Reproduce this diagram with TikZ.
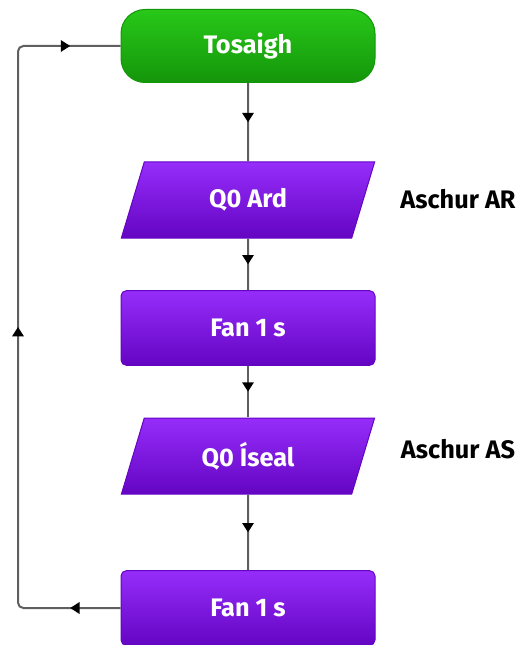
\documentclass[tikz,border=0pt]{standalone}
\usepackage{fontspec}
\setmainfont{Fira Sans}
\usetikzlibrary{shapes.geometric,arrows.meta,decorations.markings}

\definecolor{startgreen}{RGB}{40,200,25}
\definecolor{startgreendark}{RGB}{20,150,10}
\definecolor{steppurple}{RGB}{150,45,250}
\definecolor{steppurpledark}{RGB}{100,5,195}
\definecolor{flowgray}{RGB}{95,95,95}

\tikzset{every picture/.style={line width=0.75pt}}
\tikzset{
  flowbase/.style={minimum width=190.5pt, inner sep=2pt, text=white,
    font=\fontsize{19}{22}\selectfont\bfseries},
  startbox/.style={flowbase, rectangle, rounded corners=18pt, minimum height=54.75pt,
    draw=startgreendark, top color=startgreen, bottom color=startgreendark},
  fanbox/.style={flowbase, rectangle, rounded corners=4pt, minimum height=56pt,
    draw=steppurpledark, top color=steppurple, bottom color=steppurpledark},
  iobox/.style={flowbase, trapezium, trapezium left angle=72, trapezium right angle=108,
    trapezium stretches=true, minimum height=57pt,
    draw=steppurpledark, top color=steppurple, bottom color=steppurpledark},
  sidetext/.style={text=black, font=\fontsize{19}{22}\selectfont\bfseries},
  flowline/.style={draw=flowgray, line width=1.5pt, rounded corners=4pt},
  midarrow/.style={postaction={decorate,decoration={markings,
    mark=at position #1 with {\arrow[black]{Triangle[length=7pt,width=8.5pt]}}}}}
}

\begin{document}
\begin{tikzpicture}[x=0.75pt,y=0.75pt,yscale=-1,xscale=1]
\useasboundingbox (0,0) rectangle (522,645);

% Flowchart: Terminator
\node [startbox] (start) at (248,46) {Tosaigh};
% Flowchart: Data
\node [iobox] (ard) at (248,200) {Q0 Ard};
% Flowchart: Process
\node [fanbox] (fanA) at (248,328) {Fan 1 s};
% Flowchart: Data
\node [iobox] (iseal) at (248,456) {Q0 Íseal};
% Flowchart: Process
\node [fanbox] (fanB) at (248,608) {Fan 1 s};

% Text Node
\node [sidetext] (ar) at (458,199) {Aschur AR};
% Text Node
\node [sidetext] (as) at (458,449) {Aschur AS};

% Straight Lines
\draw [flowline, midarrow=0.5] (start) -- (ard);
\draw [flowline, midarrow=0.5] (ard) -- (fanA);
\draw [flowline, midarrow=0.5] (fanA) -- (iseal);
\draw [flowline, midarrow=0.5] (iseal) -- (fanB);

% Loop back to start
\coordinate (loopbot) at (18,608);
\coordinate (looptop) at (18,46);
\draw [flowline, midarrow=0.066, midarrow=0.5, midarrow=0.934] (fanB.west) -- (loopbot) -- (looptop) -- (start.west);

\end{tikzpicture}
\end{document}
